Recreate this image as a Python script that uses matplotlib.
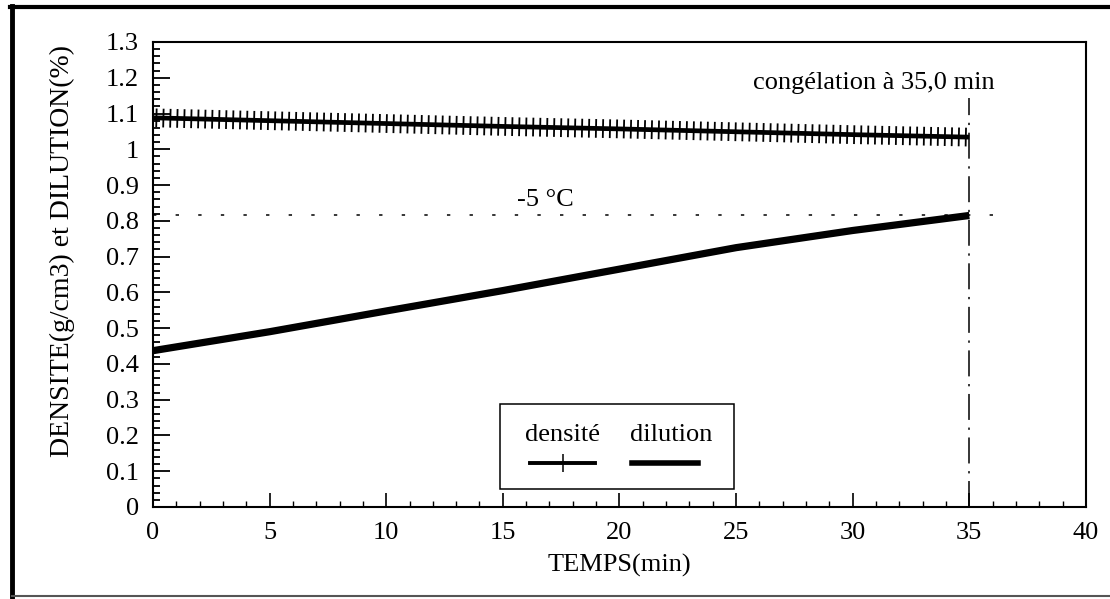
import numpy as np
import matplotlib
matplotlib.use('Agg')
import matplotlib.pyplot as plt
import matplotlib.patheffects as pe
from matplotlib.lines import Line2D
from matplotlib.patches import Rectangle
from matplotlib.ticker import MultipleLocator, AutoMinorLocator

plt.rc('font', family='Liberation Serif')

# Data
temps = [0, 5, 10, 15, 20, 25, 30, 35]
densite = [1.088, 1.080, 1.072, 1.064, 1.057, 1.049, 1.041, 1.034]
dilution = [0.437, 0.490, 0.548, 0.605, 0.665, 0.725, 0.773, 0.815]
t_congelation = 35.0
label_congelation = 'congélation à 35,0 min'
label_temp = '-5 °C'

fs = 19

# Create figure
fig = plt.figure(figsize=(11.1, 5.99), dpi=100)
ax = fig.add_axes([0.1378, 0.1536, 0.8405, 0.7763])

# Density line with "+" ticks along it
ticks = dict(spacing=5.0, length=1.35, linewidth=1.3)
ax.plot(temps, densite, color='black', lw=3.4, solid_capstyle='butt',
        path_effects=[pe.Normal(),
                      pe.TickedStroke(angle=90, **ticks),
                      pe.TickedStroke(angle=-90, **ticks)])

# Dilution line
ax.plot(temps, dilution, color='black', lw=5.2, solid_capstyle='butt')

# Reference lines
ax.axhline(dilution[-1], xmin=0.0, xmax=0.917, color='black', lw=1.1,
           linestyle=(0, (2.2, 12.6)))
ax.axvline(t_congelation, ymin=0.0, ymax=0.88, color='black', lw=1.1,
           linestyle=(0, (17, 5, 1.5, 5)))

ax.text(15.6, dilution[-1] + 0.012, label_temp, fontsize=fs, ha='left', va='bottom')
ax.text(36.1, 1.185, label_congelation, fontsize=fs, ha='right', va='center')

# Axes
ax.set_xlim(0, 40)
ax.set_ylim(0, 1.3)
ax.xaxis.set_major_locator(MultipleLocator(5))
ax.xaxis.set_minor_locator(AutoMinorLocator(5))
ax.yaxis.set_major_locator(MultipleLocator(0.1))
ax.yaxis.set_minor_locator(AutoMinorLocator(5))
ax.yaxis.set_major_formatter(plt.FuncFormatter(lambda v, p: f'{v:g}'))
ax.tick_params(which='both', direction='in', top=False, right=False, labelsize=fs)
ax.tick_params(axis='y', which='major', length=12, width=1.3, pad=10)
ax.tick_params(axis='y', which='minor', length=5, width=1.3)
ax.tick_params(axis='x', which='major', length=10, width=1.2, pad=11)
ax.tick_params(axis='x', which='minor', length=4, width=1.0)
for s in ax.spines.values():
    s.set_linewidth(1.5)

ax.set_xlabel('TEMPS(min)', fontsize=fs, labelpad=7)
ax.set_ylabel('DENSITE(g/cm3) et DILUTION(%)', fontsize=20)
ax.yaxis.set_label_coords(-0.084, 0.55)

# Legend drawn by hand: labels above samples
ax.add_patch(Rectangle((0.372, 0.039), 0.251, 0.1825, transform=ax.transAxes,
                       facecolor='white', edgecolor='black', lw=1.1, zorder=5))
ax.text(0.439, 0.155, 'densité', transform=ax.transAxes, fontsize=fs,
        ha='center', va='center', zorder=6)
ax.text(0.556, 0.155, 'dilution', transform=ax.transAxes, fontsize=fs,
        ha='center', va='center', zorder=6)
ax.plot([0.404, 0.439, 0.474], [0.095, 0.095, 0.095], transform=ax.transAxes,
        color='black', lw=2.8, marker='|', markersize=13, markeredgewidth=1.1,
        markevery=[1], zorder=6, clip_on=False)
ax.plot([0.513, 0.584], [0.095, 0.095], transform=ax.transAxes,
        color='black', lw=4.0, zorder=6, clip_on=False)

# Page frame
fig.add_artist(Line2D([12/1110, 12/1110], [1 - 597/599, 1 - 6/599],
                      transform=fig.transFigure, color='black', lw=3.5))
fig.add_artist(Line2D([10/1110, 1.0], [1 - 7/599, 1 - 7/599],
                      transform=fig.transFigure, color='black', lw=3.0))
fig.add_artist(Line2D([12/1110, 1.0], [1 - 596/599, 1 - 596/599],
                      transform=fig.transFigure, color='#555555', lw=1.5))

# Save figure
fig.savefig('out.png', dpi=100)
